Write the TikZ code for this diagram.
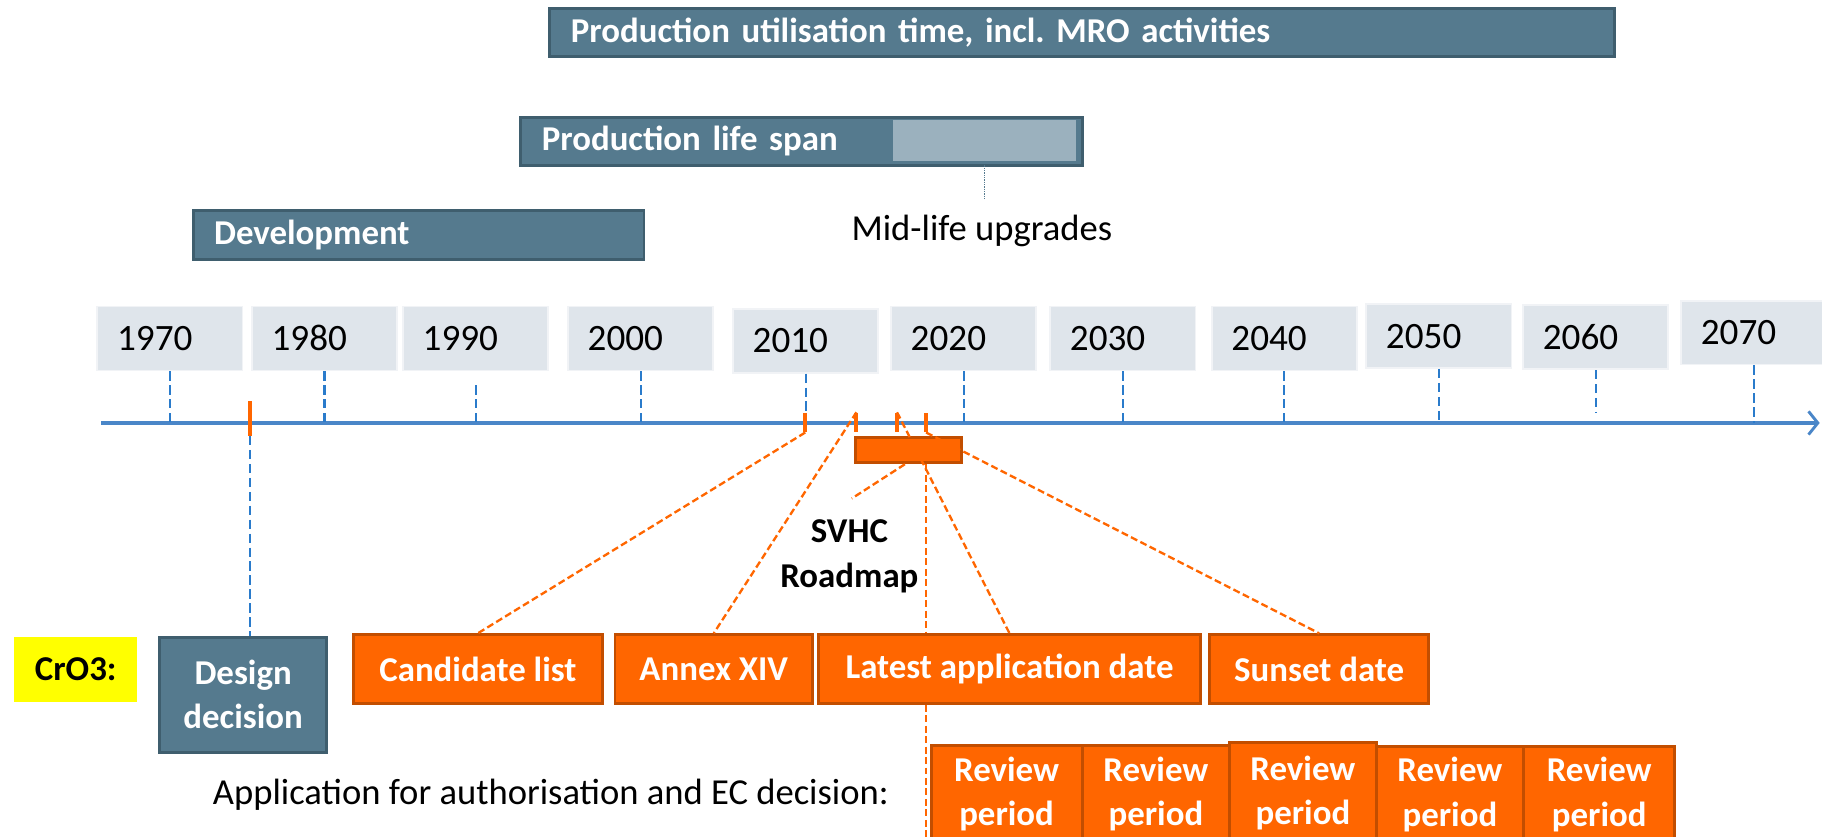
\documentclass[tikz,border=0pt]{standalone}
\usepackage{fontspec}
\setmainfont{Carlito}
\usetikzlibrary{arrows.meta,backgrounds,calc}
\frenchspacing

\definecolor{slate}{HTML}{557A8E}
\definecolor{slateedge}{HTML}{3F5E6E}
\definecolor{slatelight}{HTML}{9BB1BE}
\definecolor{yearfill}{HTML}{DFE5EB}
\definecolor{axisblue}{HTML}{4A86C8}
\definecolor{tickblue}{HTML}{2A7BCB}
\definecolor{reach}{HTML}{FF6600}
\definecolor{reachedge}{HTML}{C24E00}
\definecolor{marker}{HTML}{FFFF00}

\tikzset{
  bar/.style={draw=slateedge, fill=slate, line width=2.5pt, text=white,
    font=\bfseries\fontsize{30}{36}\selectfont, anchor=north west,
    inner xsep=18pt, inner ysep=0pt, align=left},
  yearbox/.style={draw=white!55!yearfill, fill=yearfill, line width=1.5pt,
    font=\fontsize{32}{36}\selectfont, anchor=north west, text width=91pt,
    inner xsep=17pt, inner ysep=0pt, align=left, minimum height=55pt},
  reachbox/.style={draw=reachedge, fill=reach, line width=2.5pt, text=white,
    font=\bfseries\fontsize{30}{38}\selectfont, anchor=north west,
    inner sep=0pt, align=center},
  slatebox/.style={draw=slateedge, fill=slate, line width=2.5pt, text=white,
    font=\bfseries\fontsize{30}{38}\selectfont, anchor=north west,
    inner sep=0pt, align=center},
  tickline/.style={draw=tickblue, line width=1.8pt, dash pattern=on 8pt off 4pt},
  reachdash/.style={draw=reach, line width=2pt, dash pattern=on 6pt off 3pt},
  markbar/.style={fill=reach, draw=none, minimum width=3.5pt, inner sep=0pt},
  plaintext/.style={font=\fontsize{31.5}{36}\selectfont, inner sep=0pt},
}

\begin{document}
\begin{tikzpicture}[x=1pt,y=-1pt]
\useasboundingbox (0,0) rectangle (1568,720);
\clip (0,0) rectangle (1568,720);

% life-cycle phases
\node[bar, text width=880pt, minimum height=41pt] (util) at (472,6)
  {Production utilisation time, incl. MRO activities};
\node[bar, text width=447pt, minimum height=41pt] (span) at (447,100)
  {Production life span};
\node[fill=slatelight, minimum width=158pt, minimum height=35pt,
  anchor=north west, inner sep=0pt] (upg) at (768,103) {};
\node[plaintext] (midlbl) at (845,199) {Mid-life upgrades};
\draw[slate, line width=1pt, densely dotted, shorten >=14pt]
  (upg.south) -- (upg.south |- midlbl.north);
\node[bar, text width=352pt, minimum height=42pt] (dev) at (165,180)
  {Development};

% decade labels
\node[yearbox] (y1970) at (83,263)   {1970};
\node[yearbox] (y1980) at (216,263)  {1980};
\node[yearbox] (y1990) at (346,263)  {1990};
\node[yearbox] (y2000) at (488,263)  {2000};
\node[yearbox] (y2010) at (630,265)  {2010};
\node[yearbox] (y2020) at (766,263)  {2020};
\node[yearbox] (y2030) at (903,263)  {2030};
\node[yearbox] (y2040) at (1042,263) {2040};
\node[yearbox] (y2050) at (1175,261) {2050};
\node[yearbox] (y2060) at (1310,262) {2060};
\node[yearbox] (y2070) at (1446,258) {2070};

% time axis
\coordinate (axL) at (87,364);
\coordinate (axR) at (1566,364);
\draw[axisblue, line width=3pt,
  -{Straight Barb[length=8pt, width=20pt, line width=2.5pt]}] (axL) -- (axR);

% decade ticks
\foreach \y in {1970,1980,2000,2010,2020,2030,2040,2050,2070}
  \draw[tickline] (y\y.south) -- (y\y.south |- axL);
\draw[tickline, shorten <=12pt] (y1990.south) -- (y1990.south |- axL);
\draw[tickline, shorten >=9pt] (y2060.south) -- (y2060.south |- axL);

% event markers on the axis
\node[markbar, minimum height=30pt] (m0) at (215,360) {};
\node[markbar, minimum height=17pt] (m1) at (693,363.5) {};
\node[markbar, minimum height=17pt] (m2) at (737,363.5) {};
\node[markbar, minimum height=17pt] (m3) at (772,363.5) {};
\node[markbar, minimum height=17pt] (m4) at (797,363.5) {};

% SVHC roadmap
\node[reachbox, minimum width=91pt, minimum height=22pt] (road) at (735,375) {};
\node[font=\bfseries\fontsize{30}{39}\selectfont, align=center, inner sep=0pt]
  (svhc) at (731,479) {SVHC\\Roadmap};
\coordinate (svhcend) at (733,429);

% substance row
\node[fill=marker, minimum width=106pt, minimum height=56pt, anchor=north west,
  inner sep=0pt, font=\bfseries\fontsize{30}{36}\selectfont] (cro) at (12,548) {CrO3:};
\node[slatebox, minimum width=144pt, minimum height=99pt] (dd) at (136,547)
  {Design\\decision};
\node[reachbox, minimum width=214pt, minimum height=59pt] (cand) at (303,545)
  {Candidate list};
\node[reachbox, minimum width=170pt, minimum height=59pt] (annex) at (528,545)
  {Annex XIV};
\node[reachbox, minimum width=329pt, minimum height=59pt] (late) at (703,545)
  {Latest application date};
\node[reachbox, minimum width=188pt, minimum height=59pt] (sunset) at (1040,545)
  {Sunset date};

% authorisation row
\node[plaintext, anchor=west] (applbl) at (183,684)
  {Application for authorisation and EC decision:};
\node[reachbox, minimum width=130pt, minimum height=84pt] (rv1) at (800,640)  {Review\\period};
\node[reachbox, minimum width=127pt, minimum height=84pt] (rv2) at (930,640)  {Review\\period};
\node[reachbox, minimum width=126pt, minimum height=86pt] (rv3) at (1057,638) {Review\\period};
\node[reachbox, minimum width=127pt, minimum height=83pt] (rv4) at (1183,641) {Review\\period};
\node[reachbox, minimum width=130pt, minimum height=83pt] (rv5) at (1310,641) {Review\\period};

% connectors
\draw[tickline] (m0.south) -- (m0.south |- dd.north);
\draw[reachdash] (m1.south) -- (cand.north);
\draw[reachdash] (m2.north) -- (annex.north);
\draw[reachdash] (m3.north) -- (late.north);
\draw[reachdash] (m4.south) -- (sunset.north);
\draw[reachdash] ($(road.south)+(-3,0)$) -- (svhcend);
\begin{scope}[on background layer]
  \draw[reachdash] (road.south -| m4) -- (rv1.south west -| m4);
\end{scope}
\end{tikzpicture}
\end{document}
